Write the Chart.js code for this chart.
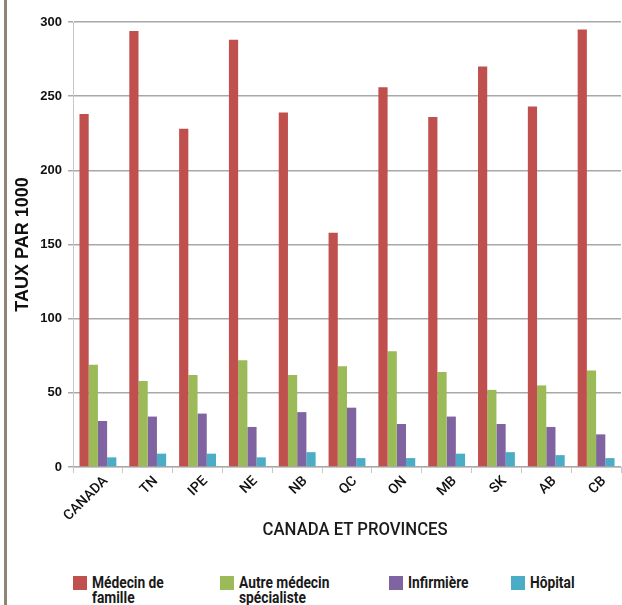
<!DOCTYPE html>
<html>
<head>
<meta charset="utf-8">
<script src="https://cdn.jsdelivr.net/npm/chart.js@4/dist/chart.umd.min.js"></script>
<style>
  html, body { margin: 0; padding: 0; background: #fff; }
  #wrap { position: relative; width: 622px; height: 605px; overflow: hidden; }
  #edge { position: absolute; left: 4px; top: 0; width: 3px; height: 605px; background: #8f8573; }
  #chart { position: absolute; left: 0; top: 0; }
  #xtitle { position: absolute; left: 0; width: 710px; top: 519px; text-align: center;
            font-family: Roboto, sans-serif; font-size: 19px; font-weight: 500; line-height: 20px; color: #1a1a1a; }
  #xtitle span { display: inline-block; transform: scaleX(0.88); transform-origin: center top; white-space: nowrap; }
  .leg { position: absolute; top: 575px; font-family: Roboto, sans-serif; white-space: nowrap;
         font-size: 16px; font-weight: 700; color: #1a1a1a; line-height: 15px; }
  .leg span { display: inline-block; transform: scaleX(0.86); transform-origin: left top; }
  .leg i { position: absolute; left: -19px; top: 1px; width: 14px; height: 14px; }
</style>
</head>
<body>
<div id="wrap">
  <div id="edge"></div>
  <canvas id="chart" width="622" height="560"></canvas>
  <div id="xtitle"><span>CANADA ET PROVINCES</span></div>
  <div class="leg" style="left:92px"><i style="background:#c0504d"></i><span>Médecin de<br>famille</span></div>
  <div class="leg" style="left:239px"><i style="background:#9bbb59"></i><span>Autre médecin<br>spécialiste</span></div>
  <div class="leg" style="left:408px"><i style="background:#8064a2"></i><span>Infirmière</span></div>
  <div class="leg" style="left:530px"><i style="background:#4bacc6"></i><span>Hôpital</span></div>
</div>
<script>
const provinces = ["CANADA", "TN", "IPE", "NE", "NB", "QC", "ON", "MB", "SK", "AB", "CB"];
const medecinFamille = [238, 294, 228, 288, 239, 158, 256, 236, 270, 243, 295];
const autreSpecialiste = [69, 58, 62, 72, 62, 68, 78, 64, 52, 55, 65];
const infirmiere = [31, 34, 36, 27, 37, 40, 29, 34, 29, 27, 22];
const hopital = [6.5, 9, 9, 6.5, 10, 6, 6, 9, 10, 8, 6];
const yTicks = [0, 50, 100, 150, 200, 250, 300];

function ds(label, data, color) {
  return { label, data, backgroundColor: color, borderWidth: 0, barPercentage: 1, categoryPercentage: 0.74 };
}

new Chart(document.getElementById("chart"), {
  type: "bar",
  data: {
    labels: provinces,
    datasets: [
      ds("Médecin de famille", medecinFamille, "#c0504d"),
      ds("Autre médecin spécialiste", autreSpecialiste, "#9bbb59"),
      ds("Infirmière", infirmiere, "#8064a2"),
      ds("Hôpital", hopital, "#4bacc6"),
    ],
  },
  options: {
    responsive: false,
    animation: false,
    layout: { padding: { left: 8, top: 22, right: 1, bottom: 15 } },
    plugins: { legend: { display: false }, tooltip: { enabled: false } },
    scales: {
      x: {
        afterFit: (a) => { a.height = 78; },
        grid: { drawOnChartArea: false, drawTicks: true, tickLength: 6, color: "#c8c8c8" },
        border: { color: "#c8c8c8" },
        ticks: { color: "#111", font: { family: "Roboto", size: 14, weight: "500" },
                 minRotation: 45, maxRotation: 45, padding: 0, labelOffset: 8 },
      },
      y: {
        min: 0, max: 300,
        afterFit: (a) => { a.width = 65; },
        afterBuildTicks: (a) => { a.ticks = yTicks.map(v => ({ value: v })); },
        grid: { color: "#a8a8a8", lineWidth: 1.5, tickLength: 5 },
        border: { color: "#c8c8c8" },
        ticks: { color: "#111", font: { family: "Liberation Sans", size: 13, weight: "bold" }, padding: 6 },
        title: { display: true, text: "TAUX PAR 1000", color: "#111",
                 font: { family: "Liberation Sans", size: 18, weight: "bold" }, padding: { bottom: 4 } },
      },
    },
  },
});
</script>
</body>
</html>
